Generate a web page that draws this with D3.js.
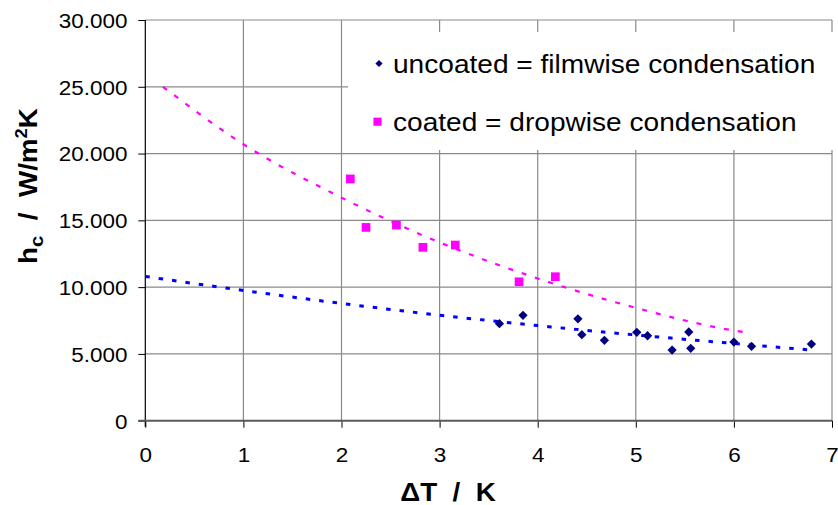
<!DOCTYPE html>
<html><head><meta charset="utf-8">
<script src="https://cdn.jsdelivr.net/npm/d3@7"></script>
<style>
body{margin:0;background:#fff;}
text{font-family:"Liberation Sans",Arial,Helvetica,sans-serif;fill:#000;}
</style>
</head><body>
<svg id="chart" width="838" height="505"></svg>
<script>
// ---- data ----
const uncoatedDT = [3.61, 3.85, 4.41, 4.45, 4.68, 5.01, 5.12, 5.37, 5.54, 5.56, 6.00, 6.18, 6.79];
const uncoatedH  = [7260, 7890, 7630, 6440, 6020, 6620, 6360, 5290, 6640, 5420, 5890, 5570, 5740];
const coatedDT   = [2.09, 2.25, 2.56, 2.83, 3.16, 3.81, 4.18];
const coatedH    = [18100, 14470, 14650, 12980, 13150, 10400, 10780];
const uncoatedTrendDT = [0, 1, 2, 3, 4, 5, 6, 6.78];
const uncoatedTrendH  = [10800, 9750, 8780, 7900, 7120, 6420, 5780, 5300];
const coatedTrendDT   = [0.18, 1, 2, 3, 4, 5, 6, 6.18];
const coatedTrendH    = [25000, 20700, 16700, 13350, 10650, 8450, 6750, 6550];
const xTicks = [0, 1, 2, 3, 4, 5, 6, 7];
const yTicks = [0, 5000, 10000, 15000, 20000, 25000, 30000];
const legendLabels = ["uncoated = filmwise condensation", "coated = dropwise condensation"];
const xTitle = "\u0394T  /  K";

// ---- layout ----
const svg = d3.select("#chart");
const L = 145.3, R = 832, T = 20, B = 420.7;
const x = d3.scaleLinear().domain([0, 7]).range([L, R]);
const y = d3.scaleLinear().domain([0, 30000]).range([B, T]);
const SX = 1.07; // horizontal stretch of the original text
const loc = d3.formatLocale({decimal: ",", thousands: ".", grouping: [3], currency: ["", ""]});
const fmt = loc.format(",");

// gridlines
const grid = svg.append("g");
grid.selectAll(".hg").data(yTicks.filter(d => d > 0)).join("line")
  .attr("x1", L).attr("x2", R).attr("y1", d => y(d)).attr("y2", d => y(d))
  .attr("stroke", "#8a8a8a").attr("stroke-width", 1.2);
grid.selectAll(".vg").data(xTicks.filter(d => d > 0)).join("line")
  .attr("x1", d => x(d)).attr("x2", d => x(d)).attr("y1", T).attr("y2", B)
  .attr("stroke", "#8a8a8a").attr("stroke-width", 1.2);

// legend background (covers gridlines)
svg.append("rect").attr("x", 348).attr("y", 32).attr("width", 490).attr("height", 118).attr("fill", "#fff");

// axes
const yAxis = svg.append("g").attr("transform", `translate(${L},0)`)
  .call(d3.axisLeft(y).tickValues(yTicks).tickFormat(fmt).tickSize(7).tickPadding(0));
yAxis.select(".domain").remove();
yAxis.selectAll(".tick line").attr("stroke", "#000");
yAxis.selectAll(".tick text").attr("x", 0).attr("dy", null)
  .attr("transform", `translate(-17.8,7.4) scale(${SX},1)`)
  .attr("text-anchor", "end").style("font-size", "21px");
svg.append("line").attr("x1", L).attr("x2", L).attr("y1", T).attr("y2", B + 6).attr("stroke", "#000").attr("stroke-width", 1.2);

const xAxis = svg.append("g").attr("transform", `translate(0,${B})`)
  .call(d3.axisBottom(x).tickValues(xTicks).tickFormat(d3.format("d")).tickSize(7).tickPadding(0));
xAxis.select(".domain").remove();
xAxis.selectAll(".tick line").attr("stroke", "#000");
xAxis.selectAll(".tick text").attr("y", 0).attr("dy", null)
  .attr("transform", `translate(0,41.5) scale(${SX},1)`)
  .attr("text-anchor", "middle").style("font-size", "21px");
svg.append("line").attr("x1", L - 7).attr("x2", R).attr("y1", B).attr("y2", B).attr("stroke", "#5a5a5a").attr("stroke-width", 2);

// trendlines
const line = d3.line().x(d => x(d[0])).y(d => y(d[1])).curve(d3.curveMonotoneX);
svg.append("path").datum(d3.zip(coatedTrendDT, coatedTrendH)).attr("d", line)
  .attr("fill", "none").attr("stroke", "#ff00ff").attr("stroke-width", 2.2).attr("stroke-dasharray", "5,9");
svg.append("path").datum(d3.zip(uncoatedTrendDT, uncoatedTrendH)).attr("d", line)
  .attr("fill", "none").attr("stroke", "#0000ff").attr("stroke-width", 3).attr("stroke-dasharray", "4.5,9");

// points
const diamond = d3.symbol().type(d3.symbolSquare).size(43);
const square = d3.symbol().type(d3.symbolSquare).size(76);
svg.append("g").selectAll("path").data(d3.zip(uncoatedDT, uncoatedH)).join("path")
  .attr("d", diamond).attr("transform", d => `translate(${x(d[0])},${y(d[1])}) rotate(45)`)
  .attr("fill", "#000080");
svg.append("g").selectAll("path").data(d3.zip(coatedDT, coatedH)).join("path")
  .attr("d", square).attr("transform", d => `translate(${x(d[0])},${y(d[1])})`)
  .attr("fill", "#ff00ff");

// legend
const lg = svg.append("g");
lg.append("path").attr("d", d3.symbol().type(d3.symbolSquare).size(26)())
  .attr("transform", "translate(379,63.5) rotate(45)").attr("fill", "#000080");
lg.append("path").attr("d", d3.symbol().type(d3.symbolSquare).size(66)())
  .attr("transform", "translate(377.5,121.7)").attr("fill", "#ff00ff");
lg.selectAll("text").data(legendLabels).join("text")
  .attr("transform", (d, i) => `translate(393,${[72.5, 130.5][i]}) scale(1.06,1)`)
  .style("font-size", "26.5px").text(d => d);

// axis titles
svg.append("text").attr("transform", `translate(448,500.5) scale(${SX},1)`)
  .attr("text-anchor", "middle").style("font-size", "26px").style("font-weight", "bold")
  .style("white-space", "pre").text(xTitle);

const yt = svg.append("text").attr("transform", "translate(37,264) rotate(-90) scale(1.07,1)")
  .style("font-size", "26px").style("font-weight", "bold").style("white-space", "pre");
yt.append("tspan").text("h");
yt.append("tspan").attr("dy", 6).style("font-size", "19px").text("c");
yt.append("tspan").attr("dy", -6).text("  /  W/m");
yt.append("tspan").attr("dy", -10).style("font-size", "17px").text("2");
yt.append("tspan").attr("dy", 10).text("K");
</script>
</body></html>
